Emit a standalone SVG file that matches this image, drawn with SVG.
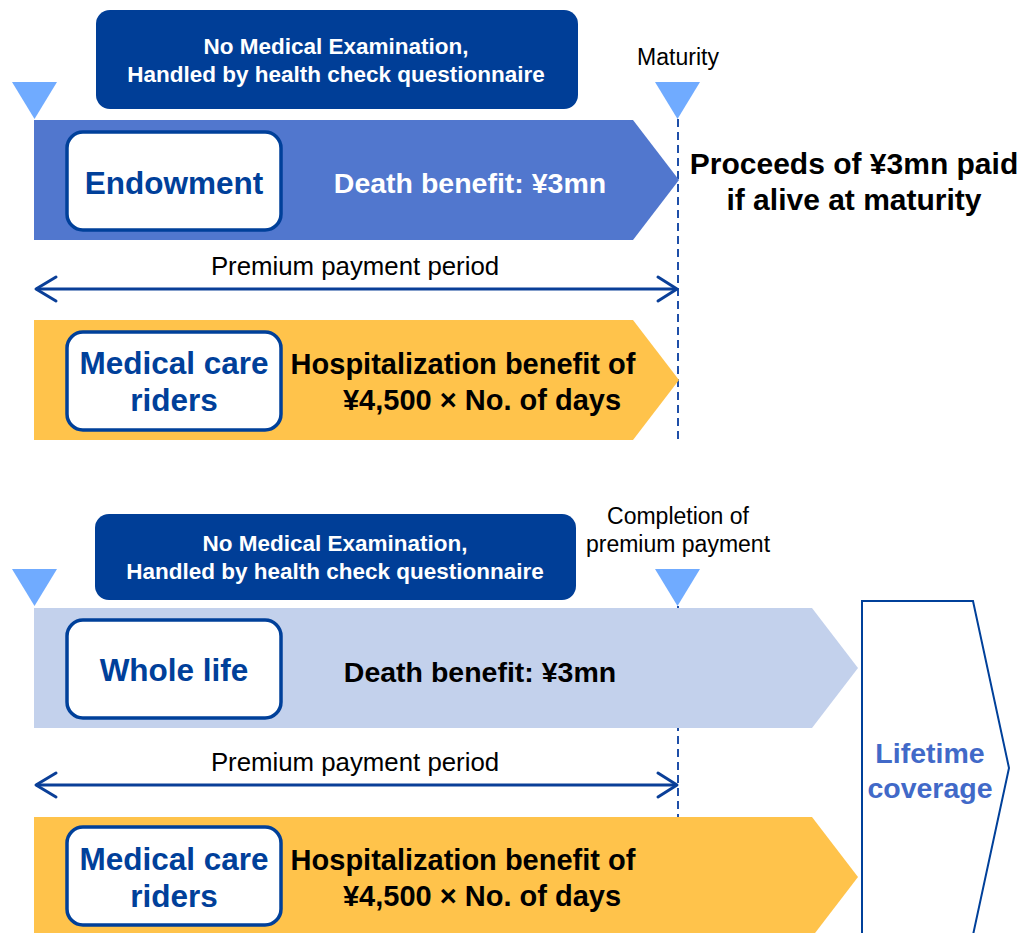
<svg xmlns="http://www.w3.org/2000/svg" width="1024" height="933" viewBox="0 0 1024 933">
<style>
text{font-family:"Liberation Sans",Arial,sans-serif;text-anchor:middle}
.hdr{fill:#003E97}
.hdrt{fill:#fff;font-weight:bold;font-size:22.5px}
.tri{fill:#70ABFF}
.box{fill:#fff;stroke:#00409A;stroke-width:3.5}
.boxt{fill:#00409A;font-weight:bold;font-size:31.5px}
.big{font-weight:bold;font-size:28.5px}
.hosp{fill:#000;font-weight:bold;font-size:29px}
.proc{fill:#000;font-weight:bold;font-size:30px}
.lbl{fill:#000;font-size:23px}
.per{fill:#000;font-size:25.8px}
.dash{stroke:#1F4FA8;stroke-width:2;stroke-dasharray:8,5;fill:none}
.dbl{stroke:#0A3F98;stroke-width:3;fill:none}
.head{stroke:#0A3F98;stroke-width:3;fill:none;stroke-linecap:round;stroke-linejoin:round}
</style>
<rect width="1024" height="933" fill="#fff"/>

<g id="connectors">
  <line class="dash" x1="678" y1="119" x2="678" y2="442"/>
  <line class="dash" x1="678" y1="606" x2="678" y2="817"/>
  <g id="arrow-period-1">
    <line class="dbl" x1="36" y1="289" x2="676" y2="289"/>
    <polyline class="head" points="56,277 36,289 56,301"/>
    <polyline class="head" points="658,277 677,289 658,301"/>
  </g>
  <g id="arrow-period-2">
    <line class="dbl" x1="36" y1="785" x2="676" y2="785"/>
    <polyline class="head" points="56,773 36,785 56,797"/>
    <polyline class="head" points="658,773 677,785 658,797"/>
  </g>
</g>

<!-- Top section -->
<g id="hdr1">
  <rect class="hdr" x="96" y="10" width="482" height="99" rx="14"/>
  <text class="hdrt" x="336" y="54">No Medical Examination,</text>
  <text class="hdrt" x="336" y="82">Handled by health check questionnaire</text>
</g>
<g id="start1"><polygon class="tri" points="12,82 57,82 34.5,119"/></g>
<g id="maturity">
  <text class="lbl" x="678" y="65">Maturity</text>
  <polygon class="tri" points="655,82 700,82 677.5,119"/>
</g>
<g id="endowment">
  <polygon fill="#5177CE" points="34,120 633,120 679,180 633,240 34,240"/>
  <rect class="box" x="67" y="132" width="214" height="98" rx="16"/>
  <text class="boxt" x="174" y="194">Endowment</text>
  <text class="big" fill="#fff" x="470" y="193">Death benefit: ¥3mn</text>
</g>
<g id="proceeds">
  <text class="proc" x="854" y="174">Proceeds of ¥3mn paid</text>
  <text class="proc" x="854" y="210">if alive at maturity</text>
</g>
<text class="per" x="355" y="275">Premium payment period</text>
<g id="rider1">
  <polygon fill="#FFC34B" points="34,320 633,320 679,380 633,440 34,440"/>
  <rect class="box" x="67" y="332" width="214" height="98" rx="16"/>
  <text class="boxt" x="174" y="374">Medical care</text>
  <text class="boxt" x="174" y="411">riders</text>
  <text class="hosp" x="463" y="374">Hospitalization benefit of</text>
  <text class="hosp" x="482" y="410">¥4,500 × No. of days</text>
</g>

<!-- Bottom section -->
<g id="hdr2">
  <rect class="hdr" x="95" y="514" width="481" height="86" rx="14"/>
  <text class="hdrt" x="335" y="551">No Medical Examination,</text>
  <text class="hdrt" x="335" y="579">Handled by health check questionnaire</text>
</g>
<g id="start2"><polygon class="tri" points="12,569 57,569 34.5,606"/></g>
<g id="completion">
  <text class="lbl" x="678" y="524">Completion of</text>
  <text class="lbl" x="678" y="552">premium payment</text>
  <polygon class="tri" points="655,569 700,569 677.5,606"/>
</g>
<g id="wholelife">
  <polygon fill="#C3D1EC" points="34,608 812,608 858,668 812,728 34,728"/>
  <rect class="box" x="67" y="620" width="214" height="98" rx="16"/>
  <text class="boxt" x="174" y="681">Whole life</text>
  <text class="big" fill="#000" x="480" y="682">Death benefit: ¥3mn</text>
</g>
<text class="per" x="355" y="771">Premium payment period</text>
<g id="rider2">
  <polygon fill="#FFC34B" points="34,817 812,817 858,877 812,937 34,937"/>
  <rect class="box" x="67" y="827" width="214" height="98" rx="16"/>
  <text class="boxt" x="174" y="870">Medical care</text>
  <text class="boxt" x="174" y="907">riders</text>
  <text class="hosp" x="463" y="870">Hospitalization benefit of</text>
  <text class="hosp" x="482" y="906">¥4,500 × No. of days</text>
</g>
<g id="lifetime">
  <polygon fill="#fff" stroke="#00409A" stroke-width="2" points="862,601 973,601 1009,768 973,935 862,935"/>
  <text class="big" fill="#4169C8" x="930" y="763">Lifetime</text>
  <text class="big" fill="#4169C8" x="930" y="798">coverage</text>
</g>
</svg>
